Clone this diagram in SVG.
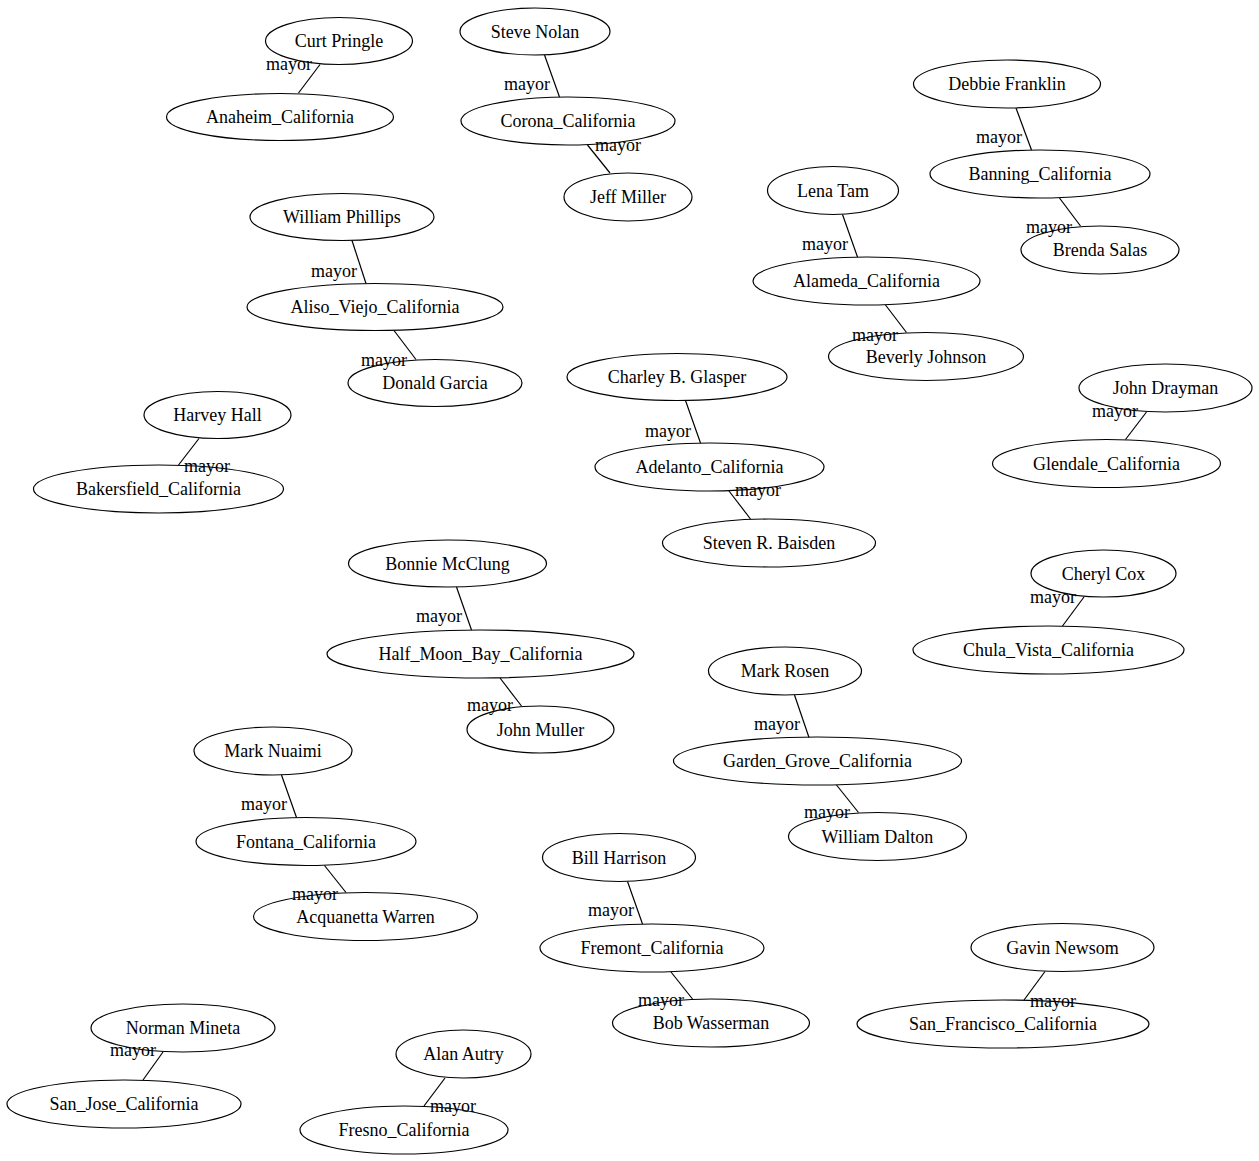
<svg xmlns="http://www.w3.org/2000/svg" width="1259" height="1161" viewBox="0 0 1259 1161">
<style>
text{font-family:"Liberation Serif","Times New Roman",serif;font-size:18px;fill:#000}
.n ellipse{fill:none;stroke:#000;stroke-width:1.2}
.n text{text-anchor:middle}
#edges line{stroke:#000;stroke-width:1.2}
#edges text{text-anchor:middle}
</style>
<rect width="1259" height="1161" fill="#fff"/>
<g id="edges">
<line x1="320" y1="64.5" x2="298.5" y2="93"/><text x="289" y="70">mayor</text>
<line x1="544.5" y1="55" x2="559.5" y2="97"/><text x="527" y="90">mayor</text>
<line x1="587.5" y1="145" x2="610" y2="173"/><text x="618" y="151">mayor</text>
<line x1="352" y1="240.5" x2="366" y2="283.5"/><text x="334" y="277">mayor</text>
<line x1="394" y1="330.5" x2="416" y2="359.5"/><text x="384" y="366">mayor</text>
<line x1="199" y1="438.5" x2="178.5" y2="465"/><text x="207" y="472">mayor</text>
<line x1="842.5" y1="214.5" x2="857.5" y2="257"/><text x="825" y="250">mayor</text>
<line x1="885.5" y1="305" x2="906.5" y2="332.5"/><text x="875" y="341">mayor</text>
<line x1="1016" y1="108" x2="1031.5" y2="150"/><text x="999" y="143">mayor</text>
<line x1="1059.5" y1="198" x2="1080.5" y2="226"/><text x="1049" y="233">mayor</text>
<line x1="685.5" y1="400.5" x2="700.5" y2="443"/><text x="668" y="437">mayor</text>
<line x1="729" y1="491" x2="750.5" y2="519"/><text x="758" y="496">mayor</text>
<line x1="1146.5" y1="412" x2="1125.5" y2="439.5"/><text x="1115" y="417">mayor</text>
<line x1="456.5" y1="587" x2="471.5" y2="630"/><text x="439" y="622">mayor</text>
<line x1="500" y1="678" x2="521.5" y2="706"/><text x="490" y="711">mayor</text>
<line x1="1084" y1="597" x2="1062.5" y2="626"/><text x="1053" y="603">mayor</text>
<line x1="794.5" y1="695" x2="809" y2="737.5"/><text x="777" y="730">mayor</text>
<line x1="836.5" y1="785" x2="858.5" y2="812.5"/><text x="827" y="818">mayor</text>
<line x1="281.5" y1="775" x2="296.5" y2="817.5"/><text x="264" y="810">mayor</text>
<line x1="324.5" y1="865.5" x2="346" y2="892.5"/><text x="315" y="900">mayor</text>
<line x1="627.5" y1="881.5" x2="642.5" y2="924"/><text x="611" y="916">mayor</text>
<line x1="671" y1="972" x2="692.5" y2="999"/><text x="661" y="1006">mayor</text>
<line x1="1045" y1="971.5" x2="1024" y2="1000"/><text x="1053" y="1007">mayor</text>
<line x1="163" y1="1052" x2="143" y2="1080"/><text x="133" y="1056">mayor</text>
<line x1="445" y1="1078" x2="424" y2="1106"/><text x="453" y="1112">mayor</text>
</g>
<g id="curt_pringle" class="n"><ellipse cx="339" cy="41" rx="73.5" ry="23.5"/><text x="339" y="47">Curt Pringle</text></g>
<g id="anaheim_california" class="n"><ellipse cx="280" cy="117" rx="113.5" ry="23.5"/><text x="280" y="123">Anaheim_California</text></g>
<g id="steve_nolan" class="n"><ellipse cx="535" cy="31.5" rx="75" ry="23.5"/><text x="535" y="37.5">Steve Nolan</text></g>
<g id="corona_california" class="n"><ellipse cx="568" cy="121" rx="107" ry="24"/><text x="568" y="127">Corona_California</text></g>
<g id="jeff_miller" class="n"><ellipse cx="628" cy="197" rx="64" ry="24"/><text x="628" y="203">Jeff Miller</text></g>
<g id="william_phillips" class="n"><ellipse cx="342" cy="217" rx="92" ry="23.5"/><text x="342" y="223">William Phillips</text></g>
<g id="aliso_viejo_california" class="n"><ellipse cx="375" cy="307" rx="128" ry="23.5"/><text x="375" y="313">Aliso_Viejo_California</text></g>
<g id="donald_garcia" class="n"><ellipse cx="435" cy="383" rx="87" ry="23.5"/><text x="435" y="389">Donald Garcia</text></g>
<g id="harvey_hall" class="n"><ellipse cx="217.5" cy="415" rx="73.5" ry="23.5"/><text x="217.5" y="421">Harvey Hall</text></g>
<g id="bakersfield_california" class="n"><ellipse cx="158.5" cy="489" rx="125" ry="24"/><text x="158.5" y="495">Bakersfield_California</text></g>
<g id="lena_tam" class="n"><ellipse cx="833" cy="190.5" rx="65.5" ry="24"/><text x="833" y="196.5">Lena Tam</text></g>
<g id="alameda_california" class="n"><ellipse cx="866.5" cy="281" rx="113.5" ry="24"/><text x="866.5" y="287">Alameda_California</text></g>
<g id="beverly_johnson" class="n"><ellipse cx="926" cy="356.5" rx="97.5" ry="24"/><text x="926" y="362.5">Beverly Johnson</text></g>
<g id="debbie_franklin" class="n"><ellipse cx="1007" cy="84" rx="93.5" ry="24"/><text x="1007" y="90">Debbie Franklin</text></g>
<g id="banning_california" class="n"><ellipse cx="1040" cy="174" rx="110" ry="24"/><text x="1040" y="180">Banning_California</text></g>
<g id="brenda_salas" class="n"><ellipse cx="1100" cy="250" rx="79" ry="24"/><text x="1100" y="256">Brenda Salas</text></g>
<g id="charley_b_glasper" class="n"><ellipse cx="677" cy="377" rx="110" ry="23.5"/><text x="677" y="383">Charley B. Glasper</text></g>
<g id="adelanto_california" class="n"><ellipse cx="709.5" cy="467" rx="114.5" ry="24"/><text x="709.5" y="473">Adelanto_California</text></g>
<g id="steven_r_baisden" class="n"><ellipse cx="769" cy="543" rx="106.5" ry="24"/><text x="769" y="549">Steven R. Baisden</text></g>
<g id="john_drayman" class="n"><ellipse cx="1165.5" cy="388" rx="86.5" ry="24"/><text x="1165.5" y="394">John Drayman</text></g>
<g id="glendale_california" class="n"><ellipse cx="1106.5" cy="463.5" rx="114" ry="24"/><text x="1106.5" y="469.5">Glendale_California</text></g>
<g id="bonnie_mcclung" class="n"><ellipse cx="447.5" cy="563.5" rx="99" ry="23.5"/><text x="447.5" y="569.5">Bonnie McClung</text></g>
<g id="half_moon_bay_california" class="n"><ellipse cx="480.5" cy="654" rx="153.5" ry="24"/><text x="480.5" y="660">Half_Moon_Bay_California</text></g>
<g id="john_muller" class="n"><ellipse cx="540.5" cy="729.5" rx="73.5" ry="23.5"/><text x="540.5" y="735.5">John Muller</text></g>
<g id="cheryl_cox" class="n"><ellipse cx="1103.5" cy="573.5" rx="72.5" ry="23.5"/><text x="1103.5" y="579.5">Cheryl Cox</text></g>
<g id="chula_vista_california" class="n"><ellipse cx="1048.5" cy="650" rx="135.5" ry="24"/><text x="1048.5" y="656">Chula_Vista_California</text></g>
<g id="mark_rosen" class="n"><ellipse cx="785" cy="671" rx="76.5" ry="24"/><text x="785" y="677">Mark Rosen</text></g>
<g id="garden_grove_california" class="n"><ellipse cx="817.5" cy="761" rx="144" ry="24"/><text x="817.5" y="767">Garden_Grove_California</text></g>
<g id="william_dalton" class="n"><ellipse cx="877.5" cy="836.5" rx="89" ry="24"/><text x="877.5" y="842.5">William Dalton</text></g>
<g id="mark_nuaimi" class="n"><ellipse cx="273" cy="751" rx="79" ry="24"/><text x="273" y="757">Mark Nuaimi</text></g>
<g id="fontana_california" class="n"><ellipse cx="306" cy="841.5" rx="110" ry="24"/><text x="306" y="847.5">Fontana_California</text></g>
<g id="acquanetta_warren" class="n"><ellipse cx="365.5" cy="916.5" rx="112" ry="24"/><text x="365.5" y="922.5">Acquanetta Warren</text></g>
<g id="bill_harrison" class="n"><ellipse cx="619" cy="857.5" rx="76.5" ry="24"/><text x="619" y="863.5">Bill Harrison</text></g>
<g id="fremont_california" class="n"><ellipse cx="652" cy="948" rx="112" ry="24"/><text x="652" y="954">Fremont_California</text></g>
<g id="bob_wasserman" class="n"><ellipse cx="711" cy="1023" rx="98.5" ry="24"/><text x="711" y="1029">Bob Wasserman</text></g>
<g id="gavin_newsom" class="n"><ellipse cx="1062.5" cy="947.5" rx="91.5" ry="24"/><text x="1062.5" y="953.5">Gavin Newsom</text></g>
<g id="san_francisco_california" class="n"><ellipse cx="1003" cy="1024" rx="146" ry="24"/><text x="1003" y="1030">San_Francisco_California</text></g>
<g id="norman_mineta" class="n"><ellipse cx="183" cy="1028" rx="92" ry="24"/><text x="183" y="1034">Norman Mineta</text></g>
<g id="san_jose_california" class="n"><ellipse cx="124" cy="1104" rx="117" ry="24"/><text x="124" y="1110">San_Jose_California</text></g>
<g id="alan_autry" class="n"><ellipse cx="463.5" cy="1054" rx="67.5" ry="24"/><text x="463.5" y="1060">Alan Autry</text></g>
<g id="fresno_california" class="n"><ellipse cx="404" cy="1130" rx="104" ry="24"/><text x="404" y="1136">Fresno_California</text></g>
</svg>
